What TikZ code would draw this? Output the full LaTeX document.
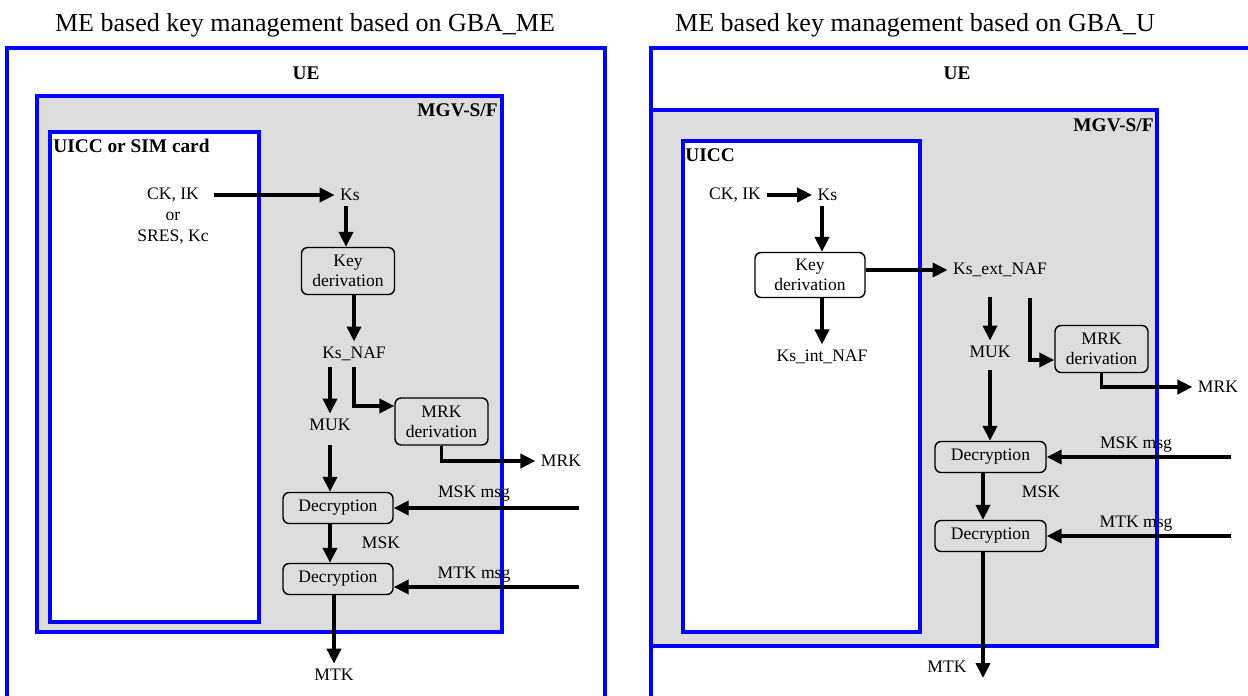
\documentclass[tikz,border=0pt]{standalone}
\usepackage{fontspec}
\setmainfont{Liberation Serif}
\usepackage{tikz}
\usetikzlibrary{arrows.meta, positioning, calc}
\definecolor{frameblue}{RGB}{0, 0, 255}
\definecolor{mgvgray}{RGB}{221, 221, 221}
\tikzset{
    bluebox/.style={draw=frameblue, line width=2.2pt},
    procbox/.style={draw, rounded corners=3.5pt, line width=0.8pt, fill=mgvgray, align=center,
        minimum width=1.86cm, minimum height=0.94cm, inner sep=1pt, font=\fontsize{10}{11.5}\selectfont},
    keytext/.style={font=\fontsize{10}{12.2}\selectfont, inner sep=3pt},
    boxtitle/.style={font=\fontsize{11}{13}\selectfont\bfseries, inner sep=0pt},
    flow/.style={line width=2pt, -{Triangle[length=8.5pt, width=8pt]}}
}

\begin{document}
\begin{tikzpicture}
    \clip (0, 0) rectangle (24.96, 13.9);

    % Titles
    \node[font=\fontsize{14.8}{17}\selectfont] (titleme) at (6.1, 13.4) {ME based key management based on GBA\_ME};
    \node[font=\fontsize{14.8}{17}\selectfont, anchor=west] (titleu) at (13.38, 13.4) {ME based key management based on GBA\_U};

    % Left: boxes
    \draw[bluebox] (0.14, 12.94) rectangle (12.1, -0.5);
    \draw[bluebox, fill=mgvgray] (0.74, 11.98) rectangle (10.04, 1.26);
    \draw[bluebox, fill=white] (1.0, 11.26) rectangle (5.18, 1.46);
    \node[boxtitle] (ue) at (6.12, 12.44) {UE};
    \node[boxtitle, anchor=east] (mgv) at (9.96, 11.7) {MGV-S/F};
    \node[boxtitle, anchor=west] (uicc) at (1.06, 10.98) {UICC or SIM card};

    % Left: keys and functions
    \node[keytext, align=center] (ck) at (3.46, 9.58) {CK, IK\\or\\SRES, Kc};
    \node[keytext] (ks) at (7.0, 10.0) {Ks};
    \node[procbox, fill=mgvgray] (keyder) at (6.96, 8.48) {Key\\derivation};
    \node[keytext] (ksnaf) at (7.08, 6.82) {Ks\_NAF};
    \node[keytext] (muk) at (6.6, 5.4) {MUK};
    \node[procbox] (mrkder) at (8.83, 5.47) {MRK\\derivation};
    \node[keytext] (mrk) at (11.22, 4.68) {MRK};
    \node[procbox, minimum width=2.2cm, minimum height=0.62cm] (dec1) at (6.76, 3.74) {Decryption};
    \node[procbox, minimum width=2.2cm, minimum height=0.62cm] (dec2) at (6.76, 2.32) {Decryption};
    \node[keytext] (msk) at (7.62, 3.04) {MSK};
    \node[keytext] (mskmsg) at (9.48, 4.02) {MSK msg};
    \node[keytext] (mtkmsg) at (9.48, 2.4) {MTK msg};
    \node[keytext] (mtk) at (6.68, 0.4) {MTK};
    \coordinate (mskin) at (11.58, 3.74);
    \coordinate (mtkin) at (11.58, 2.16);

    % Left: arrows
    \draw[flow] (ck.east |- ks) -- (ks);
    \draw[flow] (ks.south -| 6.92, 0) -- (keyder.north -| 6.92, 0);
    \draw[flow] (keyder.south -| ksnaf) -- (ksnaf.north);
    \draw[flow] (muk |- ksnaf.south) -- (muk.north);
    \draw[flow] (ksnaf.south) |- ([yshift=0.31cm]mrkder.west);
    \draw[flow] (mrkder.south) |- (mrk.west);
    \draw[flow, shorten <=5pt] (muk.south) -- (muk.south |- dec1.north);
    \draw[flow] (dec1.south -| muk) -- (dec2.north -| muk);
    \draw[flow] (dec2.south -| mtk) -- (mtk.north);
    \draw[flow] (mskin) -- (dec1.east);
    \draw[flow] (mtkin) -- (mtkin -| dec2.east);

    % Right: boxes
    \draw[bluebox] (13.02, 12.94) rectangle (26, -0.5);
    \draw[bluebox, fill=mgvgray] (13.02, 11.7) rectangle (23.14, 0.98);
    \draw[bluebox, fill=white] (13.66, 11.08) rectangle (18.4, 1.26);
    \node[boxtitle] (ue2) at (19.14, 12.44) {UE};
    \node[boxtitle, anchor=east] (mgv2) at (23.08, 11.4) {MGV-S/F};
    \node[boxtitle, anchor=west] (uicc2) at (13.7, 10.8) {UICC};

    % Right: keys and functions
    \node[keytext] (ck2) at (14.7, 10.0) {CK, IK};
    \node[keytext] (ks2) at (16.55, 10.0) {Ks};
    \node[procbox, fill=white, minimum width=2.2cm, minimum height=0.9cm] (keyder2) at (16.2, 8.4) {Key\\derivation};
    \node[keytext] (ksext) at (20.0, 8.5) {Ks\_ext\_NAF};
    \node[keytext] (ksint) at (16.44, 6.76) {Ks\_int\_NAF};
    \node[keytext] (muk2) at (19.8, 6.86) {MUK};
    \node[procbox] (mrkder2) at (22.03, 6.92) {MRK\\derivation};
    \node[keytext] (mrk2) at (24.36, 6.16) {MRK};
    \node[procbox, minimum width=2.22cm, minimum height=0.62cm] (dec21) at (19.81, 4.76) {Decryption};
    \node[procbox, minimum width=2.22cm, minimum height=0.62cm] (dec22) at (19.81, 3.18) {Decryption};
    \node[keytext] (msk2) at (20.82, 4.06) {MSK};
    \node[keytext] (mskmsg2) at (22.72, 5.0) {MSK msg};
    \node[keytext] (mtkmsg2) at (22.72, 3.42) {MTK msg};
    \node[keytext] (mtk2) at (18.94, 0.56) {MTK};
    \coordinate (mskin2) at (24.62, 4.76);
    \coordinate (mtkin2) at (24.62, 3.18);
    \coordinate (mtkend2) at (19.66, 0.34);

    % Right: arrows
    \draw[flow] (ck2) -- (ks2);
    \draw[flow] (ks2.south -| ksint) -- (keyder2.north -| ksint);
    \draw[flow] (keyder2.east |- ksext) -- (ksext);
    \draw[flow] (keyder2.south -| ksint) -- (ksint.north);
    \draw[flow, shorten <=8pt] (muk2 |- ksext.south) -- (muk2.north);
    \draw[flow] ($(ksext.south)+(0.6, -0.3)$) |- ([yshift=-0.22cm]mrkder2.west);
    \draw[flow] (mrkder2.south) |- (mrk2.west);
    \draw[flow, shorten <=4pt] (muk2.south) -- (muk2.south |- dec21.north);
    \draw[flow] (dec21.south -| mtkend2) -- (dec22.north -| mtkend2);
    \draw[flow] (dec22.south -| mtkend2) -- (mtkend2);
    \draw[flow] (mskin2) -- (dec21.east);
    \draw[flow] (mtkin2) -- (dec22.east);
\end{tikzpicture}
\end{document}
